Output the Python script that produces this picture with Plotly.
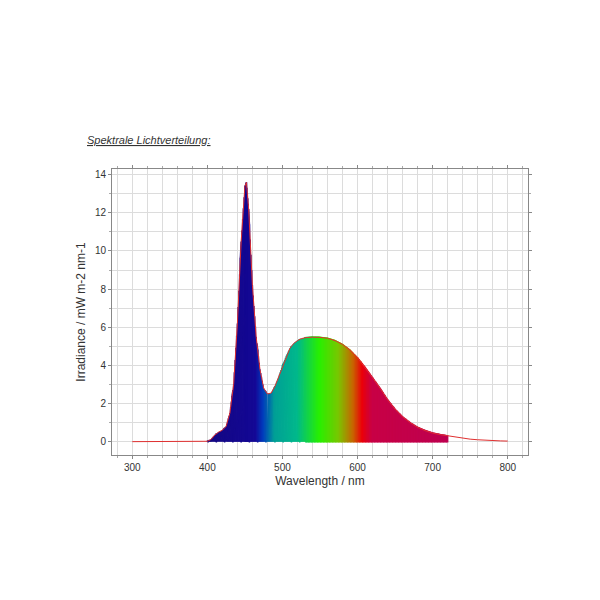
import numpy as np
import plotly.graph_objects as go

wl = [300,350,400,405,410,415,420,425,430,435,440,445,450,452,455,460,465,470,475,480,485,490,495,500,505,510,515,520,525,530,540,550,560,570,580,590,600,610,620,630,640,650,660,670,680,690,700,710,720,730,740,750,760,770,780,790,800]
irr = [0.0,0.0,0.02,0.12,0.35,0.5,0.6,0.8,1.5,3.0,6.2,10.5,13.4,13.6,12.2,8.2,5.5,3.8,2.8,2.5,2.55,2.9,3.4,4.0,4.5,4.9,5.15,5.3,5.4,5.45,5.48,5.47,5.42,5.3,5.1,4.8,4.4,3.9,3.35,2.8,2.2,1.7,1.3,1.0,0.75,0.58,0.45,0.37,0.3,0.24,0.18,0.13,0.1,0.07,0.05,0.04,0.03]
fill_end = 720

stop_nm = [400,465,475,490,520,550,575,595,607,620,720]
stop_col = [(20,8,130),(20,8,150),(0,60,190),(0,160,150),(0,185,140),(40,240,0),(120,200,0),(200,100,0),(235,0,10),(200,0,70),(190,0,80)]

def col(x):
    r = np.interp(x, stop_nm, [c[0] for c in stop_col])
    g = np.interp(x, stop_nm, [c[1] for c in stop_col])
    b = np.interp(x, stop_nm, [c[2] for c in stop_col])
    return f"rgb({int(r)},{int(g)},{int(b)})"

fig = go.Figure()
for i in range(len(wl)-1):
    x0, x1, y0, y1 = wl[i], wl[i+1], irr[i], irr[i+1]
    if x0 < 400 or x0 >= fill_end:
        continue
    n = 5
    for k in range(n):
        a, b = k/n, (k+1)/n
        xa, xb = x0+(x1-x0)*a, x0+(x1-x0)*b
        ya, yb = y0+(y1-y0)*a, y0+(y1-y0)*b
        c = col((xa+xb)/2)
        fig.add_trace(go.Scatter(x=[xa,xa,xb,xb,xa], y=[0,ya,yb,0,0], fill="toself",
                                 fillcolor=c, mode="lines", line=dict(width=1.5, color=c),
                                 hoverinfo="skip", showlegend=False))
fig.add_trace(go.Scatter(x=wl, y=irr, mode="lines", line=dict(color="#e03030", width=1), showlegend=False))

ax = dict(showline=True, linecolor="#888", mirror="ticks", ticks="outside", ticklen=3,
          tickcolor="#888", gridcolor="#dcdcdc", gridwidth=1, zeroline=False, automargin=False)
fig.update_xaxes(range=[273, 827], tickvals=[300,400,500,600,700,800], **ax,
                 title=dict(text="Wavelength / nm", standoff=4),
                 minor=dict(dtick=20, showgrid=True, gridcolor="#dcdcdc", ticks="outside", ticklen=2, tickcolor="#aaa"))
fig.update_yaxes(range=[-0.7, 14.3], tickvals=[0,2,4,6,8,10,12,14], **ax,
                 title=dict(text="Irradiance / mW m-2 nm-1", standoff=6),
                 minor=dict(dtick=1, showgrid=True, gridcolor="#dcdcdc", ticks="outside", ticklen=2, tickcolor="#aaa"))
fig.update_layout(width=600, height=600, plot_bgcolor="white", paper_bgcolor="white",
                  margin=dict(l=104, r=80, t=161, b=153, autoexpand=False),
                  font=dict(family="Liberation Sans, Arial", size=10, color="#333"),
                  annotations=[dict(text="<i><u>Spektrale Lichtverteilung:</u></i>", xref="paper", yref="paper",
                                    x=-0.065, y=1.075, xanchor="left", yanchor="bottom", showarrow=False,
                                    font=dict(size=11, color="#333"))])
fig.write_html("out.html")
